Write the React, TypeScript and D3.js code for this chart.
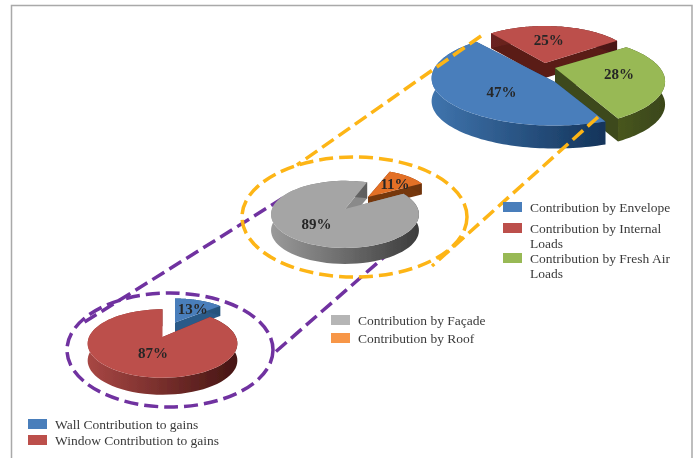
import React from 'react';
import * as d3 from 'd3';

// values, one list per pie
const envelopeNames = ['Contribution by Envelope', 'Contribution by Internal Loads', 'Contribution by Fresh Air Loads'];
const envelopeValues = [47, 25, 28];
const facadeNames = ['Contribution by Façade', 'Contribution by Roof'];
const facadeValues = [89, 11];
const gainNames = ['Wall Contribution to gains', 'Window Contribution to gains'];
const gainValues = [13, 87];

const width = 694;
const height = 458;
const rad = (deg: number) => (deg * Math.PI) / 180;

type Geo = {
  cx: number; cy: number; rx: number; ry: number; k: number; depth: number;
  top: string; wall: [string, string]; side: string; lx: number; ly: number;
};

// where each exploded slice sits, k is the perspective amount of the slice
const envelopeGeo: Geo[] = [
  { cx: 555, cy: 82, rx: 123, ry: 47, k: -0.08, depth: 23, top: '#4a7ebb', wall: ['#3f74ad', '#14345a'], side: '#1f4a78', lx: 8, ly: -4 },
  { cx: 545, cy: 63, rx: 90, ry: 37, k: 0, depth: 15, top: '#bc4f4b', wall: ['#6b2320', '#4a1715'], side: '#5a1c19', lx: -4, ly: -1 },
  { cx: 555, cy: 68, rx: 105, ry: 41, k: 0.3, depth: 23, top: '#98b954', wall: ['#48561f', '#3a4619'], side: '#3d491c', lx: 0, ly: 0 },
];
const facadeGeo: Geo[] = [
  { cx: 345, cy: 209, rx: 73, ry: 32.7, k: 0.16, depth: 16, top: '#a5a5a5', wall: ['#9a9a9a', '#3c3c3c'], side: '#8a8a8a', lx: 2, ly: -1 },
  { cx: 368, cy: 197, rx: 62, ry: 27, k: 0, depth: 11, top: '#e36f26', wall: ['#7c3c10', '#6e330c'], side: '#763810', lx: 3, ly: -1 },
];
const gainGeo: Geo[] = [
  { cx: 175, cy: 322.5, rx: 62, ry: 24, k: 0, depth: 10, top: '#4a7ebb', wall: ['#2c5c8a', '#24527c'], side: '#2a5a88', lx: 3, ly: 0 },
  { cx: 162.5, cy: 337, rx: 73.5, ry: 33, k: 0.19, depth: 17, top: '#bc4f4b', wall: ['#a84744', '#451513'], side: '#7a2c29', lx: 10, ly: -4 },
];

const project = (g: Geo, a: number, r: number): [number, number] => {
  const u = r * Math.sin(a);
  const v = -r * Math.cos(a);
  const w = 1 - g.k * v;
  return [g.cx + (g.rx * u) / w, g.cy + (g.ry * v) / w];
};

const line = d3.line();

function Pie3D({ id, values, geo, start, order }: { id: string; values: number[]; geo: Geo[]; start: number; order: number[] }) {
  const arcs = d3.pie<number>().sort(null).startAngle(rad(start)).endAngle(rad(start + 360))(values);
  return (
    <g>
      {order.map((i) => {
        const g = geo[i];
        const { startAngle: a0, endAngle: a1 } = arcs[i];
        const samples = d3.range(0, 81).map((s) => a0 + ((a1 - a0) * s) / 80);
        const rim = samples.map((a) => project(g, a, 1));
        const low = (p: [number, number]): [number, number] => [p[0], p[1] + g.depth];
        const apex: [number, number] = [g.cx, g.cy];
        return (
          <g key={i}>
            <linearGradient id={`${id}-${i}`} x1="0" x2="1" y1="0" y2="0">
              <stop offset="0" stopColor={g.wall[0]} />
              <stop offset="1" stopColor={g.wall[1]} />
            </linearGradient>
            <path d={line([apex, rim[0], low(rim[0]), low(apex)]) + 'Z'} fill={g.side} />
            <path d={line([apex, rim[80], low(rim[80]), low(apex)]) + 'Z'} fill={g.side} />
            <path d={line([...rim, ...rim.map(low).reverse()]) + 'Z'} fill={`url(#${id}-${i})`} />
            <path d={line([apex, ...rim]) + 'Z'} fill={g.top} />
          </g>
        );
      })}
    </g>
  );
}

function PieLabels({ values, geo, start }: { values: number[]; geo: Geo[]; start: number }) {
  const arcs = d3.pie<number>().sort(null).startAngle(rad(start)).endAngle(rad(start + 360))(values);
  return (
    <g fontFamily="'Liberation Serif', serif" fontWeight="bold" fontSize={15} fill="#262626" textAnchor="middle">
      {arcs.map((d, i) => {
        const [x, y] = project(geo[i], (d.startAngle + d.endAngle) / 2, 0.6);
        return (
          <text key={i} x={x + geo[i].lx} y={y + geo[i].ly + 5}>
            {d3.format('.0f')(values[i])}%
          </text>
        );
      })}
    </g>
  );
}

function Legend({ x, y, rows, colors, gap }: { x: number; y: number; rows: string[][]; colors: string[]; gap: number[] }) {
  return (
    <g fontFamily="'Liberation Serif', serif" fontSize={13.5} fill="#3a3a3a">
      {rows.map((lines, i) => (
        <g key={i} transform={`translate(${x},${y + gap[i]})`}>
          <rect width={19} height={10} fill={colors[i]} />
          {lines.map((t, j) => (
            <text key={j} x={27} y={10 + j * 15}>{t}</text>
          ))}
        </g>
      ))}
    </g>
  );
}

export default function App() {
  return (
    <svg width={width} height={height} style={{ position: 'absolute', left: 0, top: 0, background: '#fff' }}>
      <defs>
        <filter id="soft" x="0" y="0" width="1" height="1">
          <feGaussianBlur stdDeviation="0.35" />
        </filter>
      </defs>
      <g filter="url(#soft)">
        <rect width={width} height={height} fill="#fff" />
        <path d="M11.5,458V5.5H692V458" fill="none" stroke="#a9a9a9" strokeWidth={1.5} />

        <g fill="none" stroke="#7030a0" strokeWidth={3.5} strokeDasharray="14 6">
          <path d={line([[283, 198], [83, 323]]) ?? ''} />
          <path d={line([[407, 237], [272, 355]]) ?? ''} />
          <ellipse cx={170} cy={350} rx={103} ry={57} />
        </g>

        <Pie3D id="env" values={envelopeValues} geo={envelopeGeo} start={154} order={[1, 2, 0]} />
        <Pie3D id="fac" values={facadeValues} geo={facadeGeo} start={60} order={[1, 0]} />
        <Pie3D id="gain" values={gainValues} geo={gainGeo} start={0} order={[0, 1]} />

        <g fill="none" stroke="#fdb515" strokeWidth={3.5} strokeDasharray="14 6">
          <path d={line([[481, 36], [297, 165]]) ?? ''} />
          <path d={line([[598, 117], [432, 266]]) ?? ''} />
          <ellipse cx={354.5} cy={217} rx={112.5} ry={60} />
        </g>

        <PieLabels values={envelopeValues} geo={envelopeGeo} start={154} />
        <PieLabels values={facadeValues} geo={facadeGeo} start={60} />
        <PieLabels values={gainValues} geo={gainGeo} start={0} />

        <Legend x={503} y={202} gap={[0, 21, 51]} colors={['#4a7ebb', '#bc4f4b', '#98b954']}
          rows={[[envelopeNames[0]], ['Contribution by Internal', 'Loads'], ['Contribution by Fresh Air', 'Loads']]} />
        <Legend x={331} y={315} gap={[0, 18]} colors={['#b5b5b5', '#f79646']} rows={facadeNames.map((n) => [n])} />
        <Legend x={28} y={419} gap={[0, 16]} colors={['#4a7ebb', '#bc4f4b']} rows={gainNames.map((n) => [n])} />
      </g>
    </svg>
  );
}
